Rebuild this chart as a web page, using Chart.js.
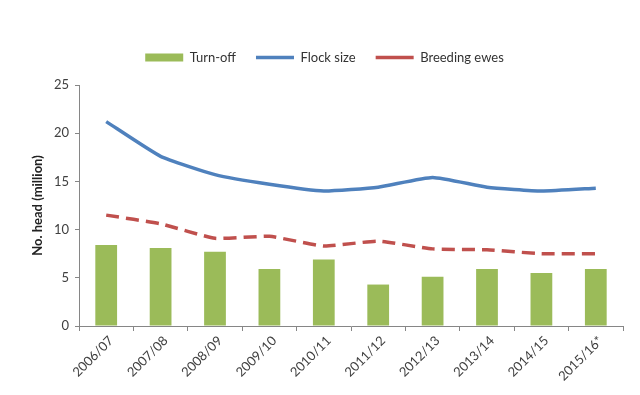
<!DOCTYPE html>
<html>
<head>
<meta charset="utf-8">
<script src="https://cdn.jsdelivr.net/npm/chart.js@4/dist/chart.umd.min.js"></script>
<style>
  html, body { margin: 0; padding: 0; background: #ffffff; }
  #wrap { width: 640px; height: 395px; position: relative; }
</style>
</head>
<body>
<div id="wrap"><canvas id="c" width="640" height="395"></canvas></div>
<script>
const categories = ["2006/07","2007/08","2008/09","2009/10","2010/11","2011/12","2012/13","2013/14","2014/15","2015/16*"];
const turnOff = [8.4, 8.1, 7.7, 5.9, 6.9, 4.3, 5.1, 5.9, 5.5, 5.9];
const flockSize = [21.2, 17.6, 15.7, 14.7, 14.0, 14.4, 15.4, 14.4, 14.0, 14.3];
const breedingEwes = [11.5, 10.6, 9.1, 9.3, 8.3, 8.8, 8.0, 7.9, 7.5, 7.5];
const yTicks = [0, 5, 10, 15, 20, 25];
const seriesNames = ["Turn-off", "Flock size", "Breeding ewes"];
const yTitle = "No. head (million)";

const FONT = "Lato, 'Liberation Sans', sans-serif";
const AXIS = "#868686";
const TEXT = "#404040";

const legendSpacer = {
  id: "legendSpacer",
  beforeUpdate: function(chart) {
    const lg = chart.legend;
    if (lg && !lg._spacerWrapped) {
      const orig = lg.fit;
      lg.fit = function() {
        orig.apply(this, arguments);
        this.height += 11;
      };
      lg._spacerWrapped = true;
    }
  }
};

new Chart(document.getElementById("c"), {
  type: "bar",
  data: {
    labels: categories,
    datasets: [
      {
        type: "bar",
        label: seriesNames[0],
        data: turnOff,
        backgroundColor: "#9BBB59",
        borderWidth: 0,
        barPercentage: 0.4,
        categoryPercentage: 1.0,
        order: 3
      },
      {
        type: "line",
        label: seriesNames[1],
        data: flockSize,
        borderColor: "#4F81BD",
        backgroundColor: "#4F81BD",
        borderWidth: 3.5,
        pointRadius: 0,
        pointHoverRadius: 0,
        tension: 0.15,
        fill: false,
        order: 1
      },
      {
        type: "line",
        label: seriesNames[2],
        data: breedingEwes,
        borderColor: "#C0504D",
        backgroundColor: "#C0504D",
        borderWidth: 3.5,
        borderDash: [13, 7],
        pointRadius: 0,
        pointHoverRadius: 0,
        tension: 0.15,
        fill: false,
        order: 2
      }
    ]
  },
  plugins: [legendSpacer],
  options: {
    responsive: false,
    animation: false,
    devicePixelRatio: 1,
    layout: { padding: { top: 31, left: 26, right: 17, bottom: 0 } },
    plugins: {
      tooltip: { enabled: false },
      legend: {
        position: "top",
        labels: {
          usePointStyle: true,
          pointStyleWidth: 38,
          boxHeight: 8,
          padding: 20,
          color: "#333333",
          font: { family: FONT, size: 13 },
          sort: function(a, b) { return a.datasetIndex - b.datasetIndex; },
          generateLabels: function(chart) {
            const items = Chart.defaults.plugins.legend.labels.generateLabels(chart);
            return items.map(function(it) {
              it.pointStyle = it.datasetIndex === 0 ? "rect" : "line";
              return it;
            });
          }
        }
      }
    },
    scales: {
      x: {
        offset: true,
        grid: { display: true, drawOnChartArea: false, drawTicks: true, tickLength: 5, color: AXIS, offset: true },
        border: { display: true, color: AXIS, width: 1 },
        ticks: {
          color: TEXT,
          font: { family: FONT, size: 13 },
          minRotation: 45,
          maxRotation: 45,
          autoSkip: false,
          padding: 2,
          labelOffset: 5
        },
        afterFit: function(s) { s.height = 69; }
      },
      y: {
        min: 0,
        max: 25,
        afterBuildTicks: function(s) { s.ticks = yTicks.map(function(v) { return { value: v }; }); },
        grid: { display: true, drawOnChartArea: false, drawTicks: true, tickLength: 4, color: AXIS },
        border: { display: true, color: AXIS, width: 1 },
        ticks: {
          color: TEXT,
          font: { family: FONT, size: 13 },
          padding: 6
        },
        title: {
          display: true,
          text: yTitle,
          color: "#222222",
          font: { family: FONT, size: 13, weight: "bold" },
          padding: { top: 4, bottom: 0 }
        },
        afterFit: function(s) { s.width = 53; }
      }
    }
  }
});
</script>
</body>
</html>
